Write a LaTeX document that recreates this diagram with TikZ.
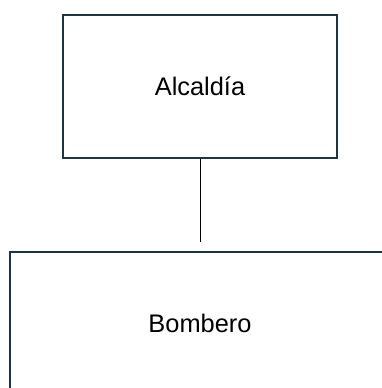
\documentclass[tikz,border=0pt]{standalone}
\usepackage{fontspec}
\setmainfont{Liberation Sans}
\usetikzlibrary{positioning}
\definecolor{borde}{HTML}{1B3545}
\tikzset{
  caja/.style={draw=borde, line width=2.2bp, fill=white, font=\fontsize{25.5}{30}\selectfont},
  enlace/.style={draw=black, line width=1bp}
}
\begin{document}
\begin{tikzpicture}[x=1bp,y=1bp]
    \useasboundingbox (0,0) rectangle (382,-388);
    \clip (0,0) rectangle (382,-388);
        % Cajas del organigrama
        \node[caja, minimum width=274bp, minimum height=143bp] (alcaldia) at (200,-86.5) {Alcald\'ia};
        \node[caja, minimum width=380bp, minimum height=143bp] (bombero) at (200,-323.5) {Bombero};
        % Linea de union (no toca la caja de abajo)
        \draw[enlace, shorten >=9bp] (alcaldia.south) -- (bombero.north);
    \end{tikzpicture}
\end{document}
